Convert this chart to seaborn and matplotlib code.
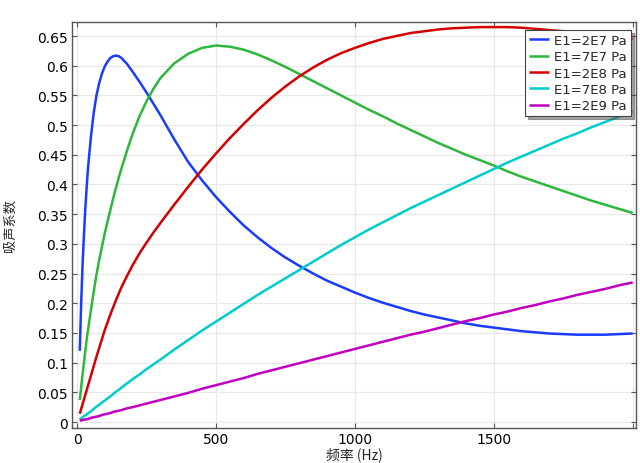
import numpy as np
import pandas as pd
import matplotlib
matplotlib.use("Agg")
import matplotlib.pyplot as plt
import seaborn as sns

freq = [10, 15, 20, 25, 30, 35, 40, 50, 60, 70,
        80, 90, 100, 110, 120, 130, 140, 150, 160, 180,
        200, 225, 250, 275, 300, 350, 400, 450, 500, 550,
        600, 650, 700, 750, 800, 850, 900, 950, 1000, 1050,
        1100, 1150, 1200, 1250, 1300, 1350, 1400, 1450, 1500, 1550,
        1600, 1650, 1700, 1750, 1800, 1850, 1900, 1950, 2000]

e_2e7 = [0.120, 0.200, 0.265, 0.315, 0.360, 0.397, 0.430, 0.480, 0.520, 0.550,
         0.571, 0.587, 0.599, 0.607, 0.613, 0.616, 0.617, 0.616, 0.613, 0.603,
         0.590, 0.573, 0.555, 0.536, 0.517, 0.476, 0.438, 0.407, 0.379, 0.354,
         0.331, 0.311, 0.293, 0.277, 0.263, 0.250, 0.238, 0.228, 0.218, 0.209,
         0.201, 0.194, 0.187, 0.181, 0.176, 0.171, 0.166, 0.162, 0.159, 0.156,
         0.153, 0.151, 0.149, 0.148, 0.147, 0.147, 0.147, 0.148, 0.149]
e_7e7 = [0.037, 0.058, 0.080, 0.100, 0.120, 0.140, 0.156, 0.188, 0.219, 0.248,
         0.273, 0.296, 0.318, 0.338, 0.357, 0.376, 0.394, 0.411, 0.427, 0.457,
         0.485, 0.515, 0.540, 0.561, 0.579, 0.604, 0.620, 0.630, 0.634, 0.632,
         0.627, 0.619, 0.609, 0.598, 0.586, 0.574, 0.562, 0.550, 0.538, 0.526,
         0.515, 0.503, 0.492, 0.481, 0.470, 0.460, 0.450, 0.441, 0.432, 0.422,
         0.413, 0.405, 0.397, 0.389, 0.381, 0.373, 0.366, 0.359, 0.352]
e_2e8 = [0.014, 0.022, 0.030, 0.038, 0.046, 0.054, 0.062, 0.078, 0.094, 0.110,
         0.125, 0.140, 0.155, 0.168, 0.181, 0.193, 0.205, 0.216, 0.227, 0.246,
         0.264, 0.284, 0.302, 0.319, 0.335, 0.366, 0.396, 0.425, 0.452, 0.478,
         0.502, 0.525, 0.546, 0.565, 0.582, 0.597, 0.610, 0.621, 0.630, 0.638,
         0.645, 0.650, 0.655, 0.658, 0.661, 0.663, 0.664, 0.665, 0.665, 0.665,
         0.664, 0.662, 0.660, 0.658, 0.656, 0.653, 0.651, 0.648, 0.645]
e_7e8 = [0.004, 0.006, 0.008, 0.010, 0.011, 0.013, 0.015, 0.018, 0.022, 0.026,
         0.029, 0.033, 0.036, 0.040, 0.043, 0.047, 0.051, 0.054, 0.058, 0.065,
         0.072, 0.080, 0.089, 0.097, 0.105, 0.122, 0.138, 0.154, 0.169, 0.184,
         0.199, 0.214, 0.228, 0.242, 0.256, 0.270, 0.284, 0.298, 0.311, 0.324,
         0.336, 0.348, 0.360, 0.371, 0.382, 0.393, 0.404, 0.415, 0.426, 0.437,
         0.447, 0.457, 0.467, 0.477, 0.486, 0.496, 0.505, 0.514, 0.523]
e_2e9 = [0.002, 0.003, 0.003, 0.004, 0.004, 0.005, 0.005, 0.007, 0.008, 0.009,
         0.010, 0.012, 0.013, 0.014, 0.015, 0.017, 0.018, 0.019, 0.020, 0.023,
         0.025, 0.028, 0.031, 0.034, 0.037, 0.043, 0.049, 0.056, 0.062, 0.068,
         0.074, 0.081, 0.087, 0.093, 0.099, 0.105, 0.111, 0.117, 0.123, 0.129,
         0.135, 0.141, 0.147, 0.152, 0.158, 0.164, 0.170, 0.175, 0.181, 0.186,
         0.192, 0.197, 0.203, 0.208, 0.214, 0.219, 0.224, 0.230, 0.235]

labels = ["E1=2E7 Pa", "E1=7E7 Pa", "E1=2E8 Pa", "E1=7E8 Pa", "E1=2E9 Pa"]
series = [e_2e7, e_7e7, e_2e8, e_7e8, e_2e9]
colors = ["#1a3cff", "#2db83d", "#d40000", "#00cccc", "#c000c0"]

df = pd.concat([pd.DataFrame({"freq": freq, "alpha": s, "E1": lab})
                for s, lab in zip(series, labels)], ignore_index=True)

sns.set_style("whitegrid")
plt.rcParams["font.family"] = ["DejaVu Sans", "Noto Sans CJK SC"]

fig = plt.figure(figsize=(6.4, 4.64), dpi=100)
ax = fig.add_axes([72/640, 1-429/464, (636-72)/640, (429-23)/464])

sns.lineplot(data=df, x="freq", y="alpha", hue="E1", palette=colors,
             linewidth=1.8, ax=ax, legend=True)
for ln in ax.get_lines():
    ln.set_solid_joinstyle("round")
    ln.set_solid_capstyle("butt")

ax.set_xlim(-18, 2012)
ax.set_ylim(-0.0101, 0.6736)
ax.set_xticks([0, 500, 1000, 1500, 2000])
ax.set_xticklabels(["0", "500", "1000", "1500", ""])
yt = np.arange(0, 0.651, 0.05)
ax.set_yticks(yt)
ax.set_yticklabels(["0"] + [f"{v:g}" for v in yt[1:]])

ax.grid(True, color="#e8e8e8", linewidth=0.9)
for sp in ax.spines.values():
    sp.set_color("#555555")
    sp.set_linewidth(1.0)
ax.tick_params(axis="both", direction="in", length=3.5, width=0.8,
               colors="#555555", labelcolor="black", labelsize=10,
               top=True, right=True, bottom=True, left=True, pad=3)

ax.set_xlabel("频率 (Hz)", family=["Noto Sans CJK SC", "DejaVu Sans"],
              fontsize=10, labelpad=0)
ax.set_ylabel("吸声系数", family=["Noto Sans CJK SC", "DejaVu Sans"],
              fontsize=9.5, labelpad=15)

leg = ax.legend(loc="upper right", bbox_to_anchor=(0.991, 0.98), frameon=True,
                fancybox=False, shadow=True, fontsize=9.5, handlelength=1.5,
                borderpad=0.3, labelspacing=0.25, handletextpad=0.4,
                borderaxespad=0.0)
leg.get_frame().set_edgecolor("#444444")
leg.get_frame().set_linewidth(0.8)
leg.get_frame().set_alpha(1.0)

fig.savefig("out.png", dpi=100)
